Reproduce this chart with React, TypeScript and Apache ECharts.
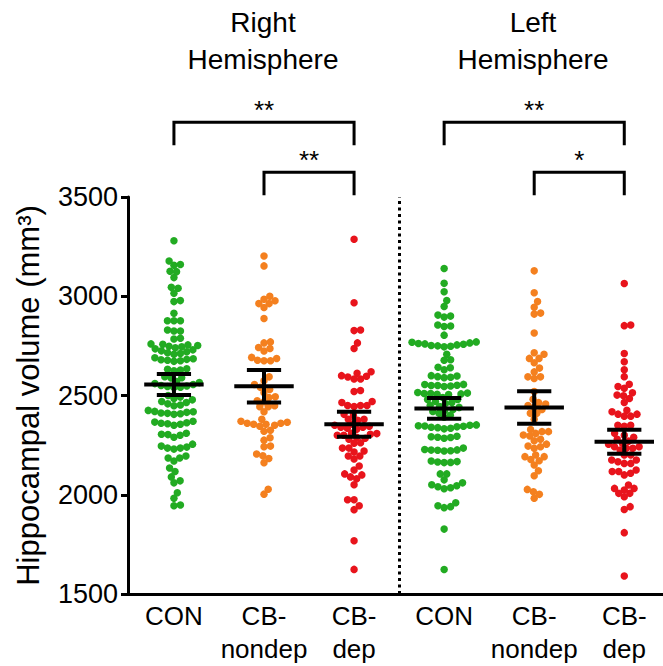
import React, { useEffect, useRef } from "react";
import * as echarts from "echarts";

const categories = ["CON", "CB-\nnondep", "CB-\ndep", "CON", "CB-\nnondep", "CB-\ndep"];
const hemisphereTitles = ["Right\nHemisphere", "Left\nHemisphere"];
const hemisphereTitleGroup = [1, 4];
const groupColors = ["#22ab22", "#f4801f", "#e8141c", "#22ab22", "#f4801f", "#e8141c"];
const yAxisName = "Hippocampal volume (mm³)";

const conRight = [
  3280, 3178, 3156, 3160, 3126, 3094, 3124, 3040, 3045, 3015, 2978, 2973, 2914, 2877, 2877, 2877,
  2825, 2825, 2830, 2789, 2785,
  2760, 2758, 2755, 2752, 2748, 2745, 2740, 2735, 2730, 2725, 2720, 2715, 2712, 2708,
  2690, 2685, 2682, 2680, 2678, 2675, 2672,
  2635, 2632, 2628, 2625, 2595, 2590, 2588,
  2570, 2565, 2560, 2555, 2550, 2548, 2545, 2542, 2540,
  2500, 2492, 2485, 2478, 2470, 2465, 2458, 2452, 2448,
  2425, 2420, 2418, 2415, 2412, 2410, 2408, 2405,
  2370, 2366, 2363, 2360, 2358, 2355, 2350,
  2310, 2305, 2303, 2300, 2290,
  2255, 2240, 2235, 2235, 2245, 2230,
  2195, 2185, 2170, 2185, 2135,
  2117, 2070, 2060, 2090, 2010, 1982, 1948, 1945,
];
const nondepRight = [
  3203, 3153, 3000, 2977, 2943, 2963, 2963, 2985, 2888, 2724, 2765, 2737, 2742, 2770, 2686, 2675,
  2675, 2678, 2692, 2594, 2574, 2555, 2541, 2530, 2514, 2494, 2490, 2468, 2443, 2448, 2473, 2443,
  2418, 2370, 2360, 2355, 2350, 2325, 2320, 2345, 2355, 2360, 2365, 2380, 2275, 2242, 2245, 2287,
  2205, 2183, 2161, 2196, 2003, 2028,
];
const depRight = [
  3287, 2967, 2830, 2827, 2737, 2765, 2612, 2597, 2583, 2583, 2593, 2600, 2620, 2520, 2525, 2470,
  2450, 2450, 2445, 2450, 2465, 2400, 2380, 2375, 2380, 2405, 2355, 2350, 2345, 2340, 2340, 2330,
  2335, 2300, 2305, 2310, 2300, 2308, 2285, 2280, 2290, 2260, 2262, 2235, 2215, 2195, 2180, 2195,
  2220, 2235, 2125, 2145, 2100, 2080, 2050, 2090, 2105, 1975, 1925, 1945, 1975, 1768, 1624,
];
const conLeft = [
  3140, 3065, 3023, 2978, 2948, 2900, 2895, 2905, 2850, 2855, 2848, 2804,
  2770, 2765, 2760, 2755, 2750, 2745, 2748, 2752, 2758, 2762, 2768, 2708, 2680, 2678,
  2640, 2642, 2630, 2595, 2590, 2598, 2592, 2600, 2550, 2555, 2545, 2552, 2548, 2556, 2550,
  2510, 2512, 2505, 2508, 2515, 2510, 2506,
  2490, 2480, 2470, 2460, 2450, 2440, 2430, 2420, 2410, 2400, 2390, 2480, 2465, 2445, 2425,
  2352, 2348, 2345, 2340, 2335, 2332, 2338, 2342, 2346, 2350,
  2290, 2288, 2292, 2285, 2295, 2225, 2222, 2228, 2235, 2220, 2224, 2226,
  2165, 2162, 2170, 2163, 2167, 2105, 2105, 2060, 2045, 2040, 2030, 2050, 2035, 2075,
  1960, 1935, 1945, 1940, 1827, 1623,
];
const nondepLeft = [
  3128, 3018, 2973, 2915, 2910, 2945, 2815, 2708, 2687, 2665, 2687, 2715, 2638, 2594, 2586, 2594,
  2619, 2520, 2464, 2481, 2457, 2450, 2440, 2430, 2380, 2410, 2410, 2309, 2279, 2318, 2296, 2301,
  2318, 2329, 2255, 2242, 2234, 2245, 2272, 2200, 2192, 2171, 2192, 2178, 2150, 2121, 2096, 2015,
  1982, 2002, 2027,
];
const depLeft = [
  3064, 2852, 2855, 2712, 2630, 2670, 2595, 2545, 2536, 2557, 2502, 2485, 2465, 2499, 2514,
  2426, 2406, 2396, 2396, 2406, 2418, 2350, 2345, 2350,
  2310, 2300, 2290, 2280, 2270, 2260, 2255,
  2242, 2234, 2225, 2234, 2242, 2200, 2200, 2175, 2158, 2166, 2175, 2158,
  2117, 2108, 2100, 2117, 2125, 2032, 1990, 2007, 2024, 2007, 2032, 2049, 1926, 1940, 1809, 1591,
];
const groups = [conRight, nondepRight, depRight, conLeft, nondepLeft, depLeft];

const groupMeans = [2555, 2547, 2355, 2435, 2440, 2267];
const groupSems = [53, 82, 63, 52, 82, 60];

const bracketFrom = [0, 1, 3, 4];
const bracketTo = [2, 2, 5, 5];
const bracketLevel = [3876, 3625, 3876, 3625];
const bracketLabels = ["**", "**", "**", "*"];

const FONT = "'Liberation Sans', Arial, Helvetica, sans-serif";

// beeswarm layout (pixel-space collision avoidance)
const PX_PER_X = 90;
const PX_PER_Y = 397 / 2000;
function swarm(values: number[], d: number): number[] {
  const order = values.map((_, i) => i).sort((a, b) => values[a] - values[b]);
  const placed: { x: number; y: number }[] = [];
  const out = new Array(values.length).fill(0);
  for (const i of order) {
    const y = values[i] * PX_PER_Y;
    const near = placed.filter((p) => Math.abs(p.y - y) < d);
    const cands = [0];
    for (const p of near) {
      const dx = Math.sqrt(d * d - (p.y - y) * (p.y - y));
      cands.push(p.x + dx, p.x - dx);
    }
    cands.sort((a, b) => Math.abs(a) - Math.abs(b));
    let best = 0;
    for (const c of cands) {
      if (near.every((p) => (p.x - c) ** 2 + (p.y - y) ** 2 >= d * d - 1e-6)) {
        best = c;
        break;
      }
    }
    placed.push({ x: best, y });
    out[i] = best / PX_PER_X;
  }
  return out;
}

export default function App() {
  const ref = useRef<HTMLDivElement>(null);
  useEffect(() => {
    if (!ref.current) return;
    const chart = echarts.init(ref.current, undefined, { renderer: "svg" });

    const scatterSeries = groups.map((vals, gi) => {
      const offs = swarm(vals, 6.5);
      return {
        type: "scatter",
        data: vals.map((v, k) => [gi + offs[k], v]),
        symbolSize: 7.5,
        itemStyle: { color: groupColors[gi], opacity: 1 },
        z: 2,
        silent: true,
        ...(gi === 0
          ? {
              markLine: {
                silent: true,
                symbol: "none",
                label: { show: false },
                lineStyle: { color: "#000", width: 3, type: [3, 3.5] },
                data: [{ xAxis: 2.5 }],
              },
            }
          : {}),
      };
    });

    const option: any = {
      animation: false,
      grid: { left: 128, right: 0, top: 197, bottom: 72 },
      xAxis: {
        type: "value",
        min: -0.51,
        max: 5.43,
        splitLine: { show: false },
        axisLine: { show: true, onZero: false, lineStyle: { color: "#000", width: 3 } },
        axisTick: { show: false },
        axisLabel: {
          customValues: [0, 1, 2, 3, 4, 5],
          formatter: (v: number) => categories[Math.round(v)] ?? "",
          color: "#000",
          fontSize: 26,
          lineHeight: 33,
          fontFamily: FONT,
          margin: 5,
          verticalAlign: "top",
        },
      },
      yAxis: {
        type: "value",
        min: 1500,
        max: 3500,
        interval: 500,
        splitLine: { show: false },
        axisLine: { show: true, onZero: false, lineStyle: { color: "#000", width: 3 } },
        axisTick: { show: true, length: 7, lineStyle: { color: "#000", width: 3 } },
        axisLabel: {
          color: "#000",
          fontSize: 27,
          fontFamily: FONT,
          margin: 10,
          formatter: (v: number) => String(v),
        },
        name: yAxisName,
        nameLocation: "middle",
        nameGap: 84,
        nameTextStyle: { color: "#000", fontSize: 31, fontFamily: FONT },
      },
      graphic: hemisphereTitles.map((t, i) => ({
        type: "text",
        x: 174 + 90 * hemisphereTitleGroup[i] - 1,
        y: 41,
        style: {
          text: t,
          fill: "#000",
          font: `28px ${FONT}`,
          lineHeight: 37,
          textAlign: "center",
          textVerticalAlign: "middle",
        },
      })),
      series: [
        ...scatterSeries,
        {
          type: "custom",
          z: 5,
          silent: true,
          data: groupMeans.map((m, i) => [i, m, groupSems[i]]),
          renderItem: (params: any, api: any) => {
            const x = api.value(0);
            const m = api.value(1);
            const s = api.value(2);
            const a = api.coord([x - 0.33, m]);
            const b = api.coord([x + 0.33, m]);
            const t = api.coord([x, m + s]);
            const u = api.coord([x, m - s]);
            const tl = api.coord([x - 0.19, m + s]);
            const tr = api.coord([x + 0.19, m + s]);
            const bl = api.coord([x - 0.19, m - s]);
            const br = api.coord([x + 0.19, m - s]);
            const st = { stroke: "#000", lineWidth: 4 };
            return {
              type: "group",
              children: [
                { type: "line", shape: { x1: a[0], y1: a[1], x2: b[0], y2: b[1] }, style: st },
                { type: "line", shape: { x1: t[0], y1: t[1], x2: u[0], y2: u[1] }, style: st },
                { type: "line", shape: { x1: tl[0], y1: tl[1], x2: tr[0], y2: tr[1] }, style: st },
                { type: "line", shape: { x1: bl[0], y1: bl[1], x2: br[0], y2: br[1] }, style: st },
              ],
            };
          },
        },
        {
          type: "custom",
          z: 5,
          silent: true,
          clip: false,
          data: bracketFrom.map((f, i) => [f, bracketTo[i], bracketLevel[i]]),
          renderItem: (params: any, api: any) => {
            const i = params.dataIndex;
            const p1 = api.coord([api.value(0), api.value(2)]);
            const p2 = api.coord([api.value(1), api.value(2)]);
            const leg = 23;
            return {
              type: "group",
              children: [
                {
                  type: "polyline",
                  shape: {
                    points: [
                      [p1[0], p1[1] + leg],
                      [p1[0], p1[1]],
                      [p2[0], p2[1]],
                      [p2[0], p2[1] + leg],
                    ],
                  },
                  style: { stroke: "#000", lineWidth: 3, fill: "none" },
                },
                {
                  type: "text",
                  x: (p1[0] + p2[0]) / 2,
                  y: p1[1] - 12,
                  style: {
                    text: bracketLabels[i],
                    fill: "#000",
                    font: `26px ${FONT}`,
                    textAlign: "center",
                    textVerticalAlign: "middle",
                  },
                },
              ],
            };
          },
        },
      ],
    };
    chart.setOption(option);
    return () => chart.dispose();
  }, []);
  return (
    <div
      ref={ref}
      style={{ position: "absolute", left: 0, top: 0, width: 663, height: 666, background: "#fff" }}
    />
  );
}
